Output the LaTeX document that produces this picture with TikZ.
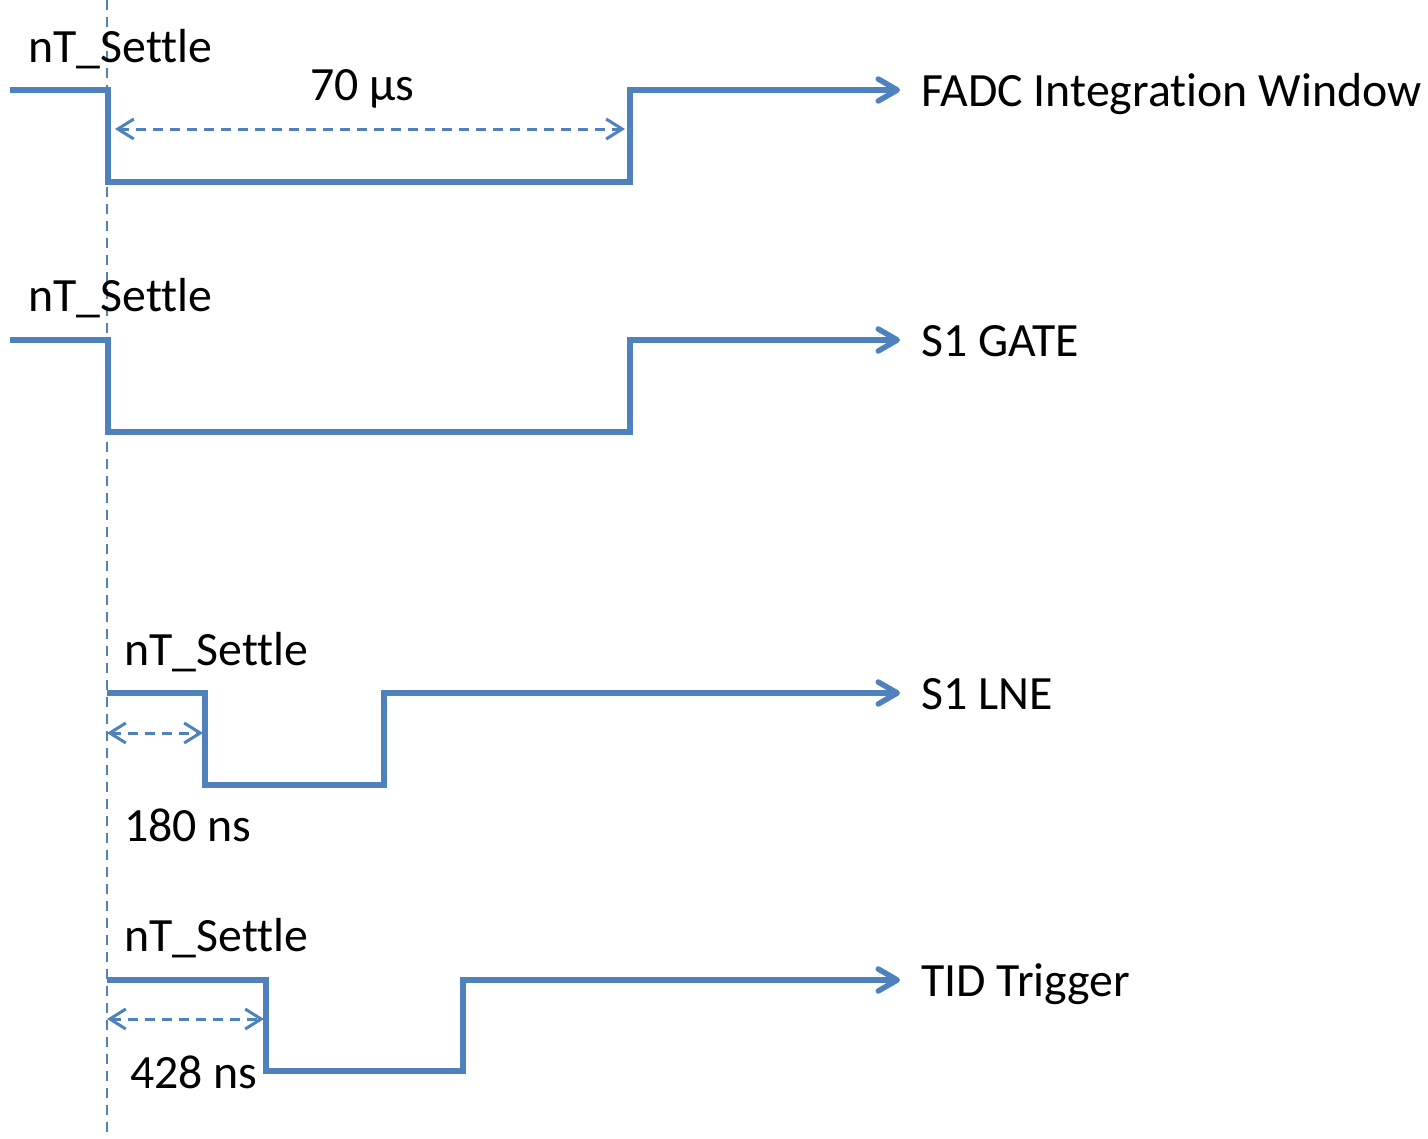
\documentclass[tikz,border=0pt]{standalone}
\usepackage{fontspec}
\setmainfont{Carlito}[Ligatures=NoCommon]
\usetikzlibrary{arrows.meta}
\definecolor{sigblue}{RGB}{79,129,189}
\tikzset{
  wave/.style={sigblue, line width=0.11cm, line join=miter,
    -{Straight Barb[length=0.38cm,width=0.44cm,round]}},
  span/.style={sigblue, line width=0.06cm, dash pattern=on 0.2cm off 0.14cm,
    {Straight Barb[length=0.32cm,width=0.4cm]}-{Straight Barb[length=0.32cm,width=0.4cm]}},
  marker/.style={sigblue, line width=0.05cm, dash pattern=on 0.2cm off 0.14cm},
  lbl/.style={anchor=base west, inner sep=0pt, font=\fontsize{27.2}{31}\selectfont}
}
\begin{document}
\begin{tikzpicture}[x=0.02cm,y=-0.02cm]
  \useasboundingbox (0,0) rectangle (1428,1139);
  \coordinate (ttop) at (107,0);
  \coordinate (tbot) at (107,1139);
  \draw[marker] (ttop) -- (tbot);

  % FADC Integration Window
  \draw[wave] (10,90) -- (108,90) -- (108,182) -- (630,182) -- (630,90) -- (900,90);
  \draw[span] (115,129) -- (625,129);
  \node[lbl] (settleA) at (28,62) {nT\_Settle};
  \node[lbl] (spanA) at (310,100) {70 µs};
  \node[lbl] (fadc) at (921,106) {FADC Integration Window};

  % S1 GATE
  \draw[wave] (10,340) -- (108,340) -- (108,432) -- (630,432) -- (630,340) -- (900,340);
  \node[lbl] (settleB) at (28,311) {nT\_Settle};
  \node[lbl] (gate) at (921,356) {S1 GATE};

  % S1 LNE
  \draw[wave] (107,693) -- (205,693) -- (205,785) -- (384,785) -- (384,693) -- (900,693);
  \draw[span] (107,733) -- (203,733);
  \node[lbl] (settleC) at (124,665) {nT\_Settle};
  \node[lbl] (spanC) at (124,841) {180 ns};
  \node[lbl] (lne) at (921,709) {S1 LNE};

  % TID Trigger
  \draw[wave] (107,980) -- (266,980) -- (266,1071) -- (463,1071) -- (463,980) -- (900,980);
  \draw[span] (107,1019) -- (264,1019);
  \node[lbl] (settleD) at (124,951) {nT\_Settle};
  \node[lbl] (spanD) at (130,1088) {428 ns};
  \node[lbl] (tid) at (921,996) {TID Trigger};
\end{tikzpicture}
\end{document}
